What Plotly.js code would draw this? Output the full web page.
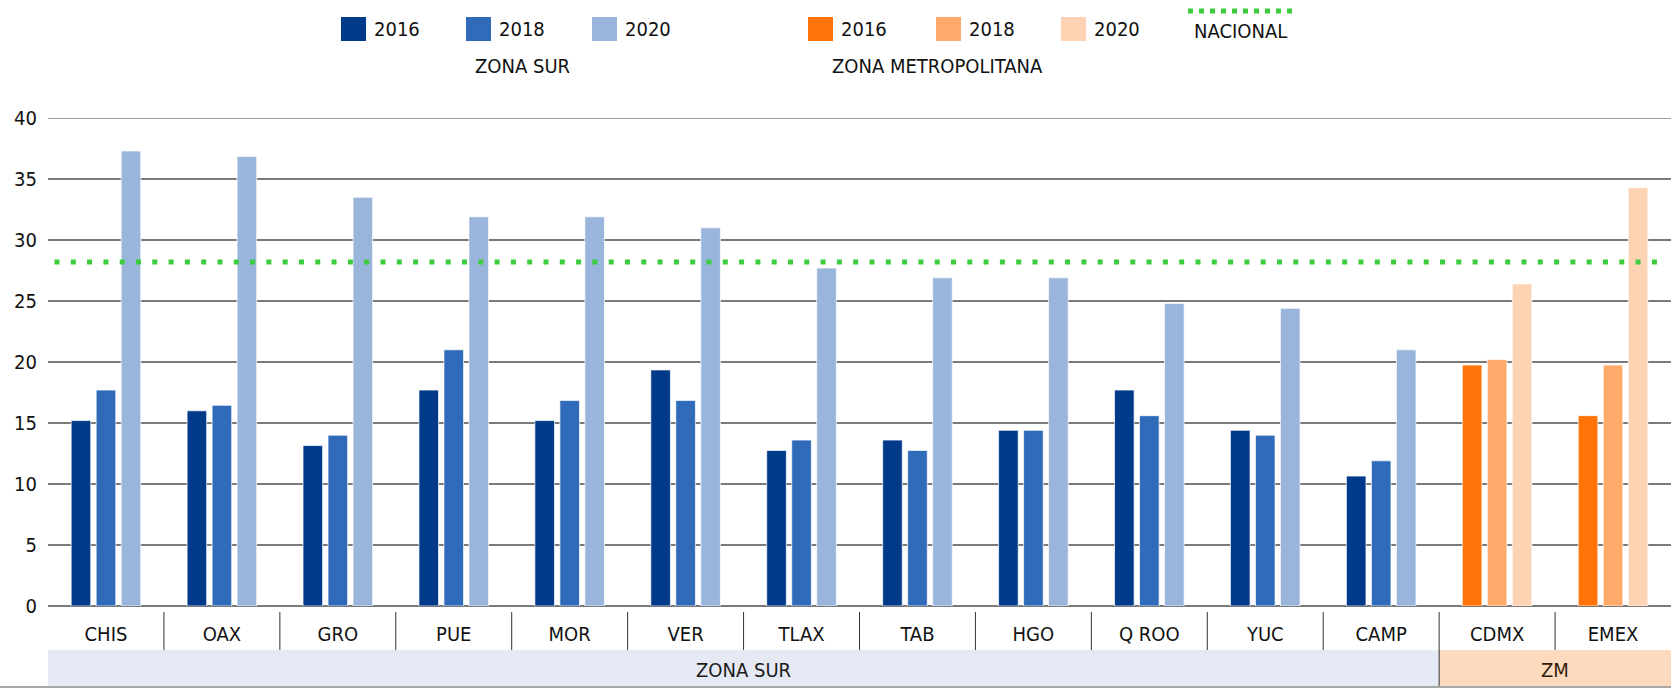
<!DOCTYPE html>
<html><head><meta charset="utf-8">
<script src="https://cdn.plot.ly/plotly-3.0.1.min.js"></script>
<style>html,body{margin:0;padding:0;background:#fff;} #chart{width:1673px;height:688px;}</style>
</head><body><div id="chart"></div>
<script>
// ---------- DATA ----------
const categories = ['CHIS','OAX','GRO','PUE','MOR','VER','TLAX','TAB','HGO','Q ROO','YUC','CAMP','CDMX','EMEX'];
const zones = ['ZONA SUR','ZONA SUR','ZONA SUR','ZONA SUR','ZONA SUR','ZONA SUR','ZONA SUR','ZONA SUR','ZONA SUR','ZONA SUR','ZONA SUR','ZONA SUR','ZM','ZM'];
const years = ['2016','2018','2020'];
const v2016 = [15.2, 16.0, 13.15, 17.7, 15.2, 19.35, 12.75, 13.6, 14.4, 17.7, 14.4, 10.65, 19.75, 15.6];
const v2018 = [17.7, 16.45, 14.0, 21.0, 16.85, 16.85, 13.6, 12.75, 14.4, 15.6, 14.0, 11.9, 20.2, 19.75];
const v2020 = [37.3, 36.85, 33.5, 31.9, 31.9, 31.0, 27.7, 26.9, 26.9, 24.8, 24.4, 21.0, 26.4, 34.3];
const nacional = 28.2;
const yMax = 40;
const legendGroups = ['ZONA SUR', 'ZONA METROPOLITANA'];
const nacionalLabel = 'NACIONAL';

// ---------- STYLE ----------
const FONT = 'DejaVu Sans Condensed, DejaVu Sans, sans-serif';
const blues = ['#023a8a', '#306bba', '#9ab5dc'];
const oranges = ['#ff7308', '#ffaa6a', '#fed3b3'];
const green = '#3dcc3d';
const gridColor = '#7a7a7a';
const W = 1673, H = 688;
const M = {l: 48, r: 2, t: 118, b: 82};
const PW = W - M.l - M.r, PH = H - M.t - M.b;
const px = x => (x - M.l) / PW;
const py = y => (H - M.b - y) / PH;

const series = [v2016, v2018, v2020];
const traces = series.map((vals, k) => ({
  type: 'bar',
  name: years[k],
  x: categories,
  y: vals,
  marker: {
    color: zones.map(z => z === 'ZM' ? oranges[k] : blues[k]),
    line: {color: 'rgba(255,255,255,0.7)', width: 1}
  },
  hoverinfo: 'x+y+name',
  showlegend: false
}));

const shapes = [];
const annotations = [];

// top gridline (at the range end)
shapes.push({type: 'line', xref: 'paper', yref: 'y', x0: 0, x1: 1, y0: yMax, y1: yMax,
  line: {color: gridColor, width: 1.5}, layer: 'below'});

// National reference line
shapes.push({type: 'line', xref: 'paper', yref: 'y', x0: 0.004, x1: 0.992, y0: nacional, y1: nacional,
  line: {color: green, width: 5, dash: '5px,11.3px'}, layer: 'above'});

// Zone bands and category dividers
const zoneList = [...new Set(zones)];
const bandFill = {'ZONA SUR': '#e5e9f3', 'ZM': '#fdd9bd'};
const bandText = {'ZONA SUR': '#1a1a1a', 'ZM': '#2e1c0c'};
zoneList.forEach(z => {
  const first = zones.indexOf(z), last = zones.lastIndexOf(z);
  shapes.push({type: 'rect', xref: 'x', yref: 'paper', x0: first - 0.5, x1: last + 0.5,
    y0: py(688), y1: py(650), fillcolor: bandFill[z], line: {width: 0}, layer: 'below'});
  annotations.push({xref: 'x', yref: 'paper', x: (first + last) / 2, y: py(670), text: z,
    showarrow: false, xanchor: 'center', yanchor: 'middle',
    font: {family: FONT, size: 20, color: bandText[z]}});
});
for (let i = 0; i < categories.length - 1; i++) {
  const zoneBreak = zones[i] !== zones[i + 1];
  shapes.push({type: 'line', xref: 'x', yref: 'paper', x0: i + 0.5, x1: i + 0.5,
    y0: py(612), y1: zoneBreak ? py(688) : py(650), line: {color: '#333333', width: 1}});
}
// bottom border line
shapes.push({type: 'line', xref: 'paper', yref: 'paper', x0: px(0), x1: 1, y0: py(687), y1: py(687),
  line: {color: '#a8a8a8', width: 2}});

// ---------- LEGEND (custom) ----------
const legendSets = [
  {colors: blues, xs: [341, 466, 592], title: legendGroups[0], titleX: 522},
  {colors: oranges, xs: [808, 936, 1061], title: legendGroups[1], titleX: 937}
];
legendSets.forEach(set => {
  set.xs.forEach((x, k) => {
    shapes.push({type: 'rect', xref: 'paper', yref: 'paper', x0: px(x), x1: px(x + 25),
      y0: py(41), y1: py(17), fillcolor: set.colors[k], line: {width: 0}});
    annotations.push({xref: 'paper', yref: 'paper', x: px(x + 31), y: py(29.5), text: years[k],
      showarrow: false, xanchor: 'left', yanchor: 'middle',
      font: {family: FONT, size: 20, color: '#111111'}});
  });
  annotations.push({xref: 'paper', yref: 'paper', x: px(set.titleX), y: py(66), text: set.title,
    showarrow: false, xanchor: 'center', yanchor: 'middle',
    font: {family: FONT, size: 20, color: '#111111'}});
});
shapes.push({type: 'line', xref: 'paper', yref: 'paper', x0: px(1188), x1: px(1294), y0: py(11), y1: py(11),
  line: {color: green, width: 5, dash: '5px,6px'}});
annotations.push({xref: 'paper', yref: 'paper', x: px(1240), y: py(31), text: nacionalLabel,
  showarrow: false, xanchor: 'center', yanchor: 'middle',
  font: {family: FONT, size: 20, color: '#111111'}});

const layout = {
  width: W, height: H,
  margin: M,
  paper_bgcolor: '#ffffff', plot_bgcolor: '#ffffff',
  barmode: 'group',
  bargap: 0.353,
  bargroupgap: 0.216,
  showlegend: false,
  font: {family: FONT, size: 20, color: '#111111'},
  xaxis: {
    type: 'category', range: [-0.5, categories.length - 0.5],
    showgrid: false, zeroline: false, showline: false, ticks: '',
    tickfont: {family: FONT, size: 20, color: '#111111'},
    ticklabelstandoff: 14, fixedrange: true
  },
  yaxis: {
    range: [0, yMax], dtick: 5, tick0: 0,
    showgrid: true, gridcolor: gridColor, gridwidth: 1.5,
    zeroline: true, zerolinecolor: gridColor, zerolinewidth: 2,
    showline: false, ticks: '',
    tickfont: {family: FONT, size: 20, color: '#111111'},
    ticklabelstandoff: 10, fixedrange: true
  },
  shapes: shapes,
  annotations: annotations
};

Plotly.newPlot('chart', traces, layout, {displayModeBar: false, staticPlot: true});
</script>
</body></html>
